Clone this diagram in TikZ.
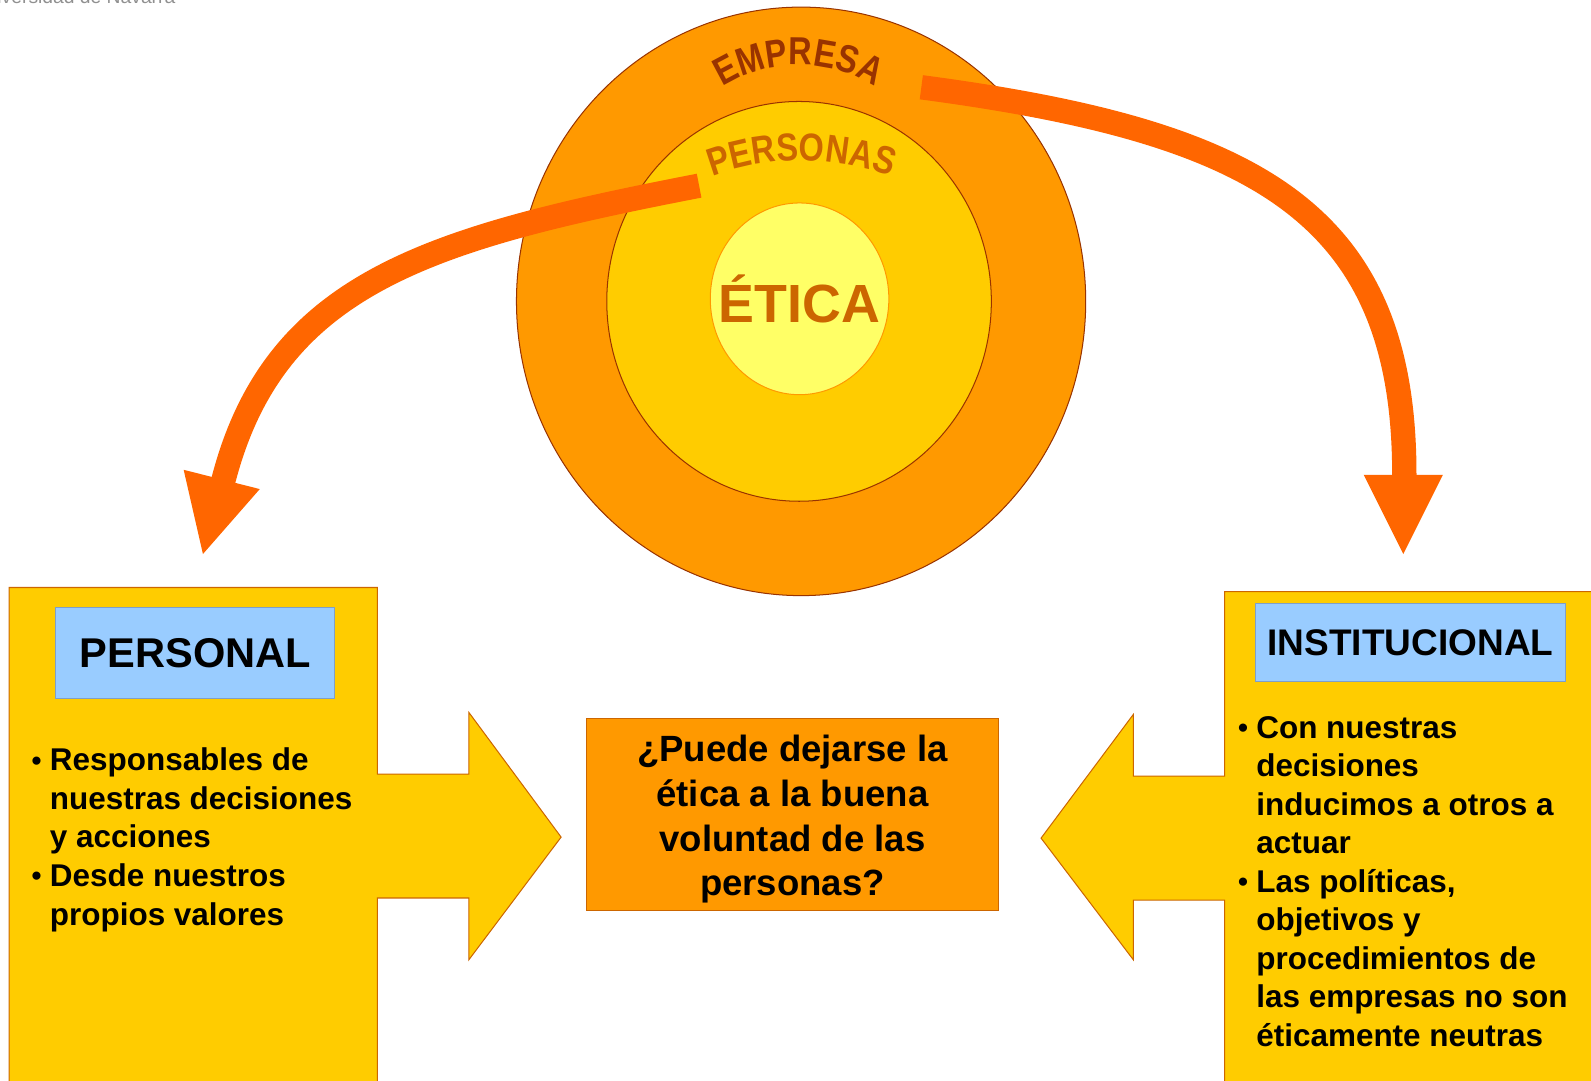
\documentclass[tikz,border=0pt]{standalone}
\usepackage{fontspec}
\usepackage{graphicx}
\setmainfont{Liberation Sans}
\usetikzlibrary{shapes.geometric,calc}
\definecolor{ringout}{HTML}{FF9900}
\definecolor{ringmid}{HTML}{FFCC00}
\definecolor{ringin}{HTML}{FFFF66}
\definecolor{edgebrown}{HTML}{993300}
\definecolor{txtorange}{HTML}{CC6600}
\definecolor{arrowor}{HTML}{FF6600}
\definecolor{boxyel}{HTML}{FFCC00}
\definecolor{boxedge}{HTML}{CC6600}
\definecolor{bluefill}{HTML}{99CCFF}
\definecolor{blueedge}{HTML}{7F9FC8}
\definecolor{unigray}{HTML}{909090}
\newcommand\bfs[2]{\fontsize{#1}{#2}\selectfont\bfseries}
\newcommand\blt{\makebox[18pt][l]{\fontsize{28}{28}\selectfont\raisebox{0.5pt}{•}}}
\newcommand\ind{\hspace*{18pt}}
\newcommand\tallch[1]{\scalebox{1}[1.2]{#1}}
\begin{document}
\begin{tikzpicture}[x=1pt,y=1pt,
  ring/.style={draw=edgebrown, line width=1, ellipse, inner sep=0},
  bigbox/.style={draw=boxedge, fill=boxyel, line width=1},
  bluebox/.style={draw=blueedge, fill=bluefill, line width=1, inner sep=0},
  bullettext/.style={anchor=north west, inner sep=0, align=left, font={\bfs{31}{38}}},
  archletter/.style={anchor=base, inner sep=0, font={\bfs{32}{32}}},
  curvedarrow/.style={draw=arrowor, line width=24, line cap=butt},
  arrowhead/.style={fill=arrowor}
]
\useasboundingbox (0,0) rectangle (1568,-1065);
\clip (0,0) rectangle (1568,-1065);
\fill[white] (0,0) rectangle (1568,-1065);

% header text (cut off at the top)
\node[anchor=base east, inner sep=0, font=\fontsize{19}{19}\selectfont, text=unigray] (uni) at (173,-3) {Universidad de Navarra};

% rings
\node[ring, fill=ringout, minimum width=561, minimum height=580] (outer) at (789.5,-297) {};
\node[ring, fill=ringmid, minimum width=379, minimum height=394] (middle) at (787.5,-297) {};
\node[ring, draw=ringout, fill=ringin, minimum width=176, minimum height=189] (inner) at (788,-294.5) {};
\node[font={\bfs{53}{53}}, text=txtorange, inner sep=0] (etica) at (788,-295) {ÉTICA};

% arched labels, letter by letter
\coordinate (empc) at (787,-204);
\foreach \ch/\a [count=\i] in {E/-28.03,M/-18.21,P/-8.39,R/0.72,E/9.82,S/18.54,A/27.67}
  \node[archletter, text=edgebrown, rotate=-\a] (emp\i) at ($(empc)+(90-\a:140)$) {\tallch{\ch}};
\coordinate (perc) at (790,-408);
\foreach \ch/\a [count=\i] in {P/-18.13,E/-13.25,R/-8.16,S/-3.06,O/2.24,N/7.74,A/13.03,S/18.13}
  \node[archletter, text=txtorange, rotate=-\a] (per\i) at ($(perc)+(90-\a:250)$) {\tallch{\ch}};

% left box with right-pointing arrow
\draw[bigbox] (9,-579) -- (372,-579) -- (372,-763) -- (462,-763) -- (462,-702)
  -- (553,-825) -- (462,-946) -- (462,-885) -- (372,-885) -- (372,-1080) -- (9,-1080) -- cycle;
% right box with left-pointing arrow
\draw[bigbox] (1207,-583) -- (1580,-583) -- (1580,-1080) -- (1207,-1080) -- (1207,-887)
  -- (1117,-887) -- (1117,-946) -- (1026,-826) -- (1117,-704) -- (1117,-765) -- (1207,-765) -- cycle;

\node[bluebox, minimum width=275, minimum height=89, font={\bfs{41}{41}}] (personal) at (192.5,-643.5) {PERSONAL};
\node[bluebox, minimum width=306, minimum height=77, font={\bfs{36.5}{36.5}}] (institucional) at (1390,-633.5) {INSTITUCIONAL};

\node[bullettext] (ltext) at (31,-737) {\blt Responsables de\\
\ind nuestras decisiones\\
\ind y acciones\\
\blt Desde nuestros\\
\ind propios valores};

\node[bullettext] (rtext) at (1220,-705.5) {\blt Con nuestras\\
\ind decisiones\\
\ind inducimos a otros a\\
\ind actuar\\
\blt Las políticas,\\
\ind objetivos y\\
\ind procedimientos de\\
\ind las empresas no son\\
\ind éticamente neutras};

% central question
\node[draw=boxedge, fill=ringout, line width=1, minimum width=406, minimum height=189, inner sep=0] (question) at (781,-802.5) {};
\node[anchor=north, inner sep=0, align=center, font={\bfs{36}{44}}] (qtext) at ($(question.north)+(0,-17)$)
  {¿Puede dejarse la\\ ética a la buena\\ voluntad de las\\ personas?};

% curved arrows
\coordinate (lstart) at (689,-183);
\coordinate (lend) at (220,-474);
\coordinate (lh1) at (181,-463);
\coordinate (lh2) at (256,-482);
\coordinate (ltip) at (200,-546);
\draw[curvedarrow] (lstart) .. controls (420,-235) and (270,-280) .. (lend);
\fill[arrowhead] (lh1) -- (lh2) -- (ltip) -- cycle;

\coordinate (rstart) at (908,-86);
\coordinate (rend) at (1384,-470);
\coordinate (rh1) at (1344,-468);
\coordinate (rh2) at (1422,-468);
\coordinate (rtip) at (1383,-546);
\draw[curvedarrow] (rstart) .. controls (1240,-130) and (1385,-210) .. (rend);
\fill[arrowhead] (rh1) -- (rh2) -- (rtip) -- cycle;
\end{tikzpicture}
\end{document}
